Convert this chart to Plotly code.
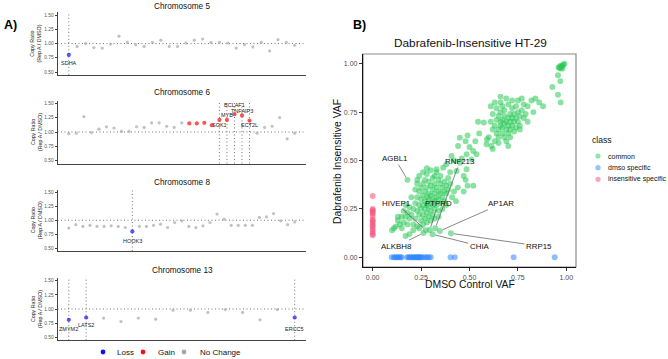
import plotly.graph_objects as go

W, H = 668, 359
FONT = "Liberation Sans, Arial, sans-serif"

# ---------------- Panel A data (copy ratio per gene, ordered along chromosome) ----------------
chr5_ratio = [0.80, 0.95, 1.00, 0.93, 0.92, 0.99, 1.13, 1.02, 0.98, 0.95, 1.02, 1.06, 0.95, 0.95,
              1.01, 1.06, 1.08, 1.02, 1.02, 1.01, 0.92, 0.98, 0.94, 1.02, 0.87, 1.07, 1.02, 0.97]
chr5_loss = [0]
chr5_gain = []
chr5_genes = ["SDHA"]
chr5_gene_idx = [0]

chr6_ratio = [0.97, 0.98, 1.27, 0.99, 1.05, 1.09, 1.07, 1.01, 1.01, 1.09, 1.08, 1.16, 1.16, 1.10,
              1.08, 1.16, 1.15, 1.15, 1.16, 1.12, 1.21, 1.21, 1.31, 1.29, 1.20, 0.98, 1.08, 1.10,
              1.25, 0.88, 0.98]
chr6_loss = []
chr6_gain = [16, 17, 18, 19, 20, 21, 22, 23, 24]
chr6_genes = ["SGK1", "MYB", "BCLAF1", "TNFAIP3", "ECT2L"]
chr6_gene_idx = [20, 21, 22, 23, 24]

chr8_ratio = [0.86, 0.92, 0.89, 0.91, 0.89, 0.89, 0.90, 0.89, 0.87, 0.80, 0.89, 0.89, 0.91, 0.93,
              0.87, 0.96, 0.99, 0.89, 0.87, 0.90, 0.96, 1.11, 1.02, 0.91, 0.91, 0.91, 0.91, 1.05,
              1.06, 1.12, 0.99, 0.92, 0.97]
chr8_loss = [9]
chr8_gain = []
chr8_genes = ["HOOK3"]
chr8_gene_idx = [9]

chr13_ratio = [0.81, 0.85, 0.84, 0.78, 0.84, 0.82, 0.98, 0.98, 0.94, 0.99, 0.94, 0.81, 0.99, 0.85]
chr13_loss = [0, 1, 13]
chr13_gain = []
chr13_genes = ["ZMYM2", "LATS2", "ERCC5"]
chr13_gene_idx = [0, 1, 13]

chrom_names = ["Chromosome 5", "Chromosome 6", "Chromosome 8", "Chromosome 13"]
ratio_ticks = [0.50, 0.75, 1.00, 1.25, 1.50]
status_names = ["Loss", "Gain", "No Change"]

# ---------------- Panel B data (VAF) ----------------
common_dmso = [
    0.20, 0.21, 0.22, 0.22, 0.23, 0.23, 0.24, 0.24, 0.24, 0.25,
    0.25, 0.25, 0.25, 0.26, 0.26, 0.26, 0.26, 0.27, 0.27, 0.27,
    0.27, 0.27, 0.28, 0.28, 0.28, 0.28, 0.29, 0.29, 0.29, 0.29,
    0.29, 0.30, 0.30, 0.30, 0.30, 0.31, 0.31, 0.31, 0.31, 0.31,
    0.32, 0.32, 0.32, 0.32, 0.33, 0.33, 0.33, 0.34, 0.34, 0.34,
    0.34, 0.35, 0.35, 0.35, 0.36, 0.36, 0.37, 0.37, 0.37, 0.38,
    0.38, 0.39, 0.40, 0.19, 0.19, 0.18, 0.18, 0.17, 0.17, 0.16,
    0.16, 0.15, 0.15, 0.14, 0.13, 0.12, 0.11, 0.10, 0.21, 0.20,
    0.22, 0.23, 0.24, 0.26, 0.28, 0.30, 0.32, 0.33, 0.21, 0.23,
    0.19, 0.17, 0.24, 0.26, 0.28, 0.30, 0.32, 0.34, 0.36, 0.38,
    0.41, 0.42, 0.44, 0.47, 0.49, 0.52, 0.48, 0.43, 0.13,
    # labelled genes
    0.18, 0.323, 0.275, 0.295, 0.347, 0.262, 0.309, 0.404,
    # middle tail
    0.28, 0.23, 0.33, 0.364, 0.433, 0.485, 0.51, 0.45, 0.407, 0.485,
    0.536, 0.519, 0.441, 0.48, 0.45, 0.588, 0.613, 0.544, 0.574, 0.40,
    0.42, 0.46, 0.50, 0.53, 0.55, 0.38, 0.35, 0.47, 0.39, 0.49,
    # upper cluster
    0.60, 0.61, 0.62, 0.62, 0.63, 0.63, 0.64, 0.64, 0.64, 0.65,
    0.65, 0.65, 0.66, 0.66, 0.66, 0.66, 0.67, 0.67, 0.67, 0.67,
    0.68, 0.68, 0.68, 0.68, 0.69, 0.69, 0.69, 0.70, 0.70, 0.70,
    0.70, 0.71, 0.71, 0.71, 0.72, 0.72, 0.72, 0.73, 0.73, 0.74,
    0.74, 0.74, 0.75, 0.75, 0.76, 0.76, 0.77, 0.78, 0.78, 0.79,
    0.80, 0.82, 0.84, 0.86, 0.88, 0.80, 0.83, 0.65, 0.62, 0.59,
    0.61, 0.63, 0.66, 0.72, 0.75, 0.77, 0.69, 0.71, 0.73, 0.76,
    0.70,
    # top cluster
    0.96, 0.97, 0.975, 0.98, 0.985, 0.99, 0.97, 0.98, 0.965, 0.957,
    0.969, 0.928, 0.957, 0.971,
]
common_insensitive = [
    0.22, 0.25, 0.20, 0.28, 0.24, 0.31, 0.22, 0.27, 0.34, 0.19,
    0.25, 0.30, 0.36, 0.22, 0.27, 0.32, 0.38, 0.20, 0.25, 0.29,
    0.34, 0.40, 0.23, 0.27, 0.31, 0.36, 0.21, 0.26, 0.30, 0.33,
    0.39, 0.24, 0.28, 0.32, 0.37, 0.22, 0.27, 0.30, 0.35, 0.41,
    0.25, 0.29, 0.33, 0.38, 0.27, 0.31, 0.36, 0.24, 0.30, 0.34,
    0.40, 0.28, 0.33, 0.38, 0.31, 0.36, 0.29, 0.34, 0.39, 0.33,
    0.37, 0.35, 0.38, 0.26, 0.20, 0.23, 0.17, 0.21, 0.27, 0.18,
    0.24, 0.15, 0.21, 0.17, 0.19, 0.16, 0.15, 0.14, 0.17, 0.31,
    0.35, 0.38, 0.42, 0.44, 0.43, 0.45, 0.42, 0.44, 0.14, 0.16,
    0.12, 0.11, 0.15, 0.17, 0.18, 0.19, 0.20, 0.21, 0.25, 0.27,
    0.31, 0.34, 0.36, 0.34, 0.37, 0.37, 0.40, 0.29, 0.21,
    # labelled genes
    0.40, 0.15, 0.14, 0.141, 0.136, 0.125, 0.119, 0.124,
    # middle tail
    0.46, 0.40, 0.455, 0.463, 0.446, 0.455, 0.506, 0.489, 0.523, 0.532,
    0.532, 0.549, 0.575, 0.60, 0.618, 0.584, 0.575, 0.70, 0.696, 0.44,
    0.50, 0.51, 0.57, 0.60, 0.64, 0.48, 0.42, 0.42, 0.41, 0.63,
    # upper cluster
    0.62, 0.70, 0.66, 0.74, 0.60, 0.68, 0.64, 0.71, 0.77, 0.66,
    0.62, 0.73, 0.68, 0.70, 0.75, 0.80, 0.64, 0.67, 0.71, 0.78,
    0.62, 0.69, 0.73, 0.76, 0.66, 0.70, 0.82, 0.64, 0.68, 0.72,
    0.79, 0.66, 0.70, 0.74, 0.68, 0.72, 0.77, 0.70, 0.74, 0.67,
    0.72, 0.78, 0.70, 0.75, 0.73, 0.68, 0.76, 0.72, 0.79, 0.74,
    0.78, 0.81, 0.82, 0.80, 0.78, 0.70, 0.75, 0.59, 0.56, 0.61,
    0.78, 0.80, 0.83, 0.81, 0.81, 0.82, 0.60, 0.62, 0.65, 0.66,
    0.575,
    # top cluster
    0.98, 0.99, 0.985, 0.99, 0.995, 1.0, 0.975, 0.975, 0.98, 0.94,
    0.91, 0.88, 0.84, 0.80,
]
labelled_genes = ["AGBL1", "RNF213", "HIVEP1", "PTPRD", "AP1AR", "ALKBH8", "CHIA", "RRP15"]
labelled_dmso = [0.18, 0.323, 0.275, 0.295, 0.347, 0.262, 0.309, 0.404]
labelled_insensitive = [0.40, 0.15, 0.14, 0.141, 0.136, 0.125, 0.119, 0.124]

dmso_specific_dmso = [0.098, 0.11, 0.115, 0.124, 0.13, 0.136, 0.144, 0.15, 0.178, 0.185,
                      0.192, 0.20, 0.206, 0.212, 0.218, 0.224, 0.23, 0.235, 0.24, 0.246,
                      0.252, 0.26, 0.273, 0.281, 0.29, 0.30, 0.402, 0.424, 0.728, 0.94]
dmso_specific_insensitive = [0.0] * len(dmso_specific_dmso)

insens_specific_insensitive = [0.317, 0.25, 0.243, 0.234, 0.226, 0.213, 0.196, 0.188, 0.179,
                               0.167, 0.158, 0.145, 0.133, 0.122, 0.114]
insens_specific_dmso = [0.0] * len(insens_specific_insensitive)

class_names = ["common", "dmso specific", "insensitive specific"]
vaf_ticks = [0.0, 0.25, 0.5, 0.75, 1.0]

# ---------------- styling / layout helpers ----------------
def px_x(p):
    return p / W

def px_y(p):
    return 1 - p / H

COL_NONE, COL_LOSS, COL_GAIN = "#a8a8a8", "#1010f5", "#f51010"
class_colors = ["rgb(40,200,85)", "rgb(45,135,255)", "rgb(245,75,120)"]

# label vertical offsets (in ratio units) for panel A gene labels
label_dy = {"SDHA": -0.15, "SGK1": -0.08, "MYB": 0.08, "BCLAF1": 0.16, "TNFAIP3": 0.07,
            "ECT2L": -0.07, "HOOK3": -0.17, "ZMYM2": -0.17, "LATS2": -0.14, "ERCC5": -0.21}
# label text positions for panel B (data units)
label_pos = {"AGBL1": (0.115, 0.51), "RNF213": (0.45, 0.495), "HIVEP1": (0.12, 0.28),
             "PTPRD": (0.338, 0.277), "AP1AR": (0.665, 0.277), "ALKBH8": (0.124, 0.058),
             "CHIA": (0.553, 0.058), "RRP15": (0.859, 0.058)}

A_left, A_right = 57.5, 306
A_panels = [(12.2, 74.9), (100.5, 163.5), (189.5, 251.0), (277.8, 340.2)]
A_title_y = [6.5, 92.3, 182.3, 270.0]


def paper_text(x, y, text, size, xanchor="center", angle=0, color="#111"):
    return dict(x=px_x(x), y=px_y(y), xref="paper", yref="paper", text=text, showarrow=False,
                xanchor=xanchor, yanchor="middle", textangle=angle,
                font=dict(size=size, color=color, family=FONT))


chroms = [
    (chr5_ratio, chr5_loss, chr5_gain, chr5_genes, chr5_gene_idx),
    (chr6_ratio, chr6_loss, chr6_gain, chr6_genes, chr6_gene_idx),
    (chr8_ratio, chr8_loss, chr8_gain, chr8_genes, chr8_gene_idx),
    (chr13_ratio, chr13_loss, chr13_gain, chr13_genes, chr13_gene_idx),
]

fig = go.Figure()
annotations = []
shapes = []
layout_axes = {}

for k, (ratio, loss, gain, genes, gidx) in enumerate(chroms):
    n = len(ratio)
    xs = list(range(n))
    colors, sizes = [], []
    for i in xs:
        if i in loss:
            colors.append(COL_LOSS); sizes.append(4.2)
        elif i in gain:
            colors.append(COL_GAIN); sizes.append(4.2)
        else:
            colors.append(COL_NONE); sizes.append(3.2)
    sfx = "" if k == 0 else str(k + 1)
    xa, ya = "x" + sfx, "y" + sfx
    shapes.append(dict(type="line", xref=xa + " domain", yref=ya, x0=0, x1=1, y0=1, y1=1,
                       line=dict(color="#666666", width=0.9, dash="1px,2.5px"), layer="below"))
    for g, gi in zip(genes, gidx):
        shapes.append(dict(type="line", xref=xa, yref=ya + " domain", x0=gi, x1=gi, y0=0, y1=1,
                           line=dict(color="#666666", width=0.9, dash="1px,2.5px"), layer="below"))
        annotations.append(dict(x=gi, y=ratio[gi] + label_dy[g], xref=xa, yref=ya, text=g,
                                showarrow=False, font=dict(size=5.5, color="#222", family=FONT),
                                xanchor="center", yanchor="middle"))
    fig.add_trace(go.Scatter(x=xs, y=ratio, mode="markers", xaxis=xa, yaxis=ya,
                             marker=dict(color=colors, size=sizes, line=dict(width=0)),
                             showlegend=False, hoverinfo="skip"))
    top, bot = A_panels[k]
    layout_axes["xaxis" + sfx] = dict(domain=[px_x(A_left), px_x(A_right)], anchor=ya,
                                      range=[-0.05 * (n - 1), 1.05 * (n - 1)],
                                      showticklabels=False, ticks="", showgrid=False,
                                      zeroline=False, showline=True, linecolor="#444",
                                      linewidth=0.9)
    layout_axes["yaxis" + sfx] = dict(domain=[px_y(bot), px_y(top)], anchor=xa,
                                      range=[0.45, 1.55], tickvals=ratio_ticks,
                                      ticktext=["%.2f" % v for v in ratio_ticks],
                                      ticks="outside", ticklen=2, tickwidth=0.6,
                                      tickcolor="#444", showgrid=False, zeroline=False,
                                      showline=True, linecolor="#444", linewidth=0.9,
                                      tickfont=dict(size=4.8, color="#555", family=FONT))
    annotations.append(paper_text(182, A_title_y[k], chrom_names[k], 8.2))
    annotations.append(paper_text(36, (top + bot) / 2, "Copy Ratio<br>(Rep A / DMSO)", 5.3,
                                  angle=-90, color="#222"))

# Panel A legend
legA_dot = [103, 143, 184]
legA_txt = [115, 156, 198]
for name, col, dx, tx in zip(status_names, [COL_LOSS, COL_GAIN, COL_NONE], legA_dot, legA_txt):
    shapes.append(dict(type="circle", xref="paper", yref="paper", xsizemode="pixel",
                       ysizemode="pixel", xanchor=px_x(dx), yanchor=px_y(352), x0=-2.4, x1=2.4,
                       y0=-2.4, y1=2.4, fillcolor=col, line=dict(width=0)))
    annotations.append(paper_text(tx, 352.5, name, 8, xanchor="left"))

annotations.append(paper_text(2, 25, "<b>A)</b>", 12.5, xanchor="left", color="#000"))
annotations.append(paper_text(350.5, 25, "<b>B)</b>", 12.5, xanchor="left", color="#000"))

# ---------------- Panel B ----------------
B_l, B_r, B_t, B_b = 363, 576, 54, 267
for cx, cy, name, col in [(common_dmso, common_insensitive, class_names[0], class_colors[0]),
                          (dmso_specific_dmso, dmso_specific_insensitive, class_names[1], class_colors[1]),
                          (insens_specific_dmso, insens_specific_insensitive, class_names[2], class_colors[2])]:
    fig.add_trace(go.Scatter(x=cx, y=cy, mode="markers", xaxis="x5", yaxis="y5",
                             marker=dict(color=col, size=5.9, opacity=0.55, line=dict(width=0)),
                             name=name, showlegend=False, hoverinfo="skip"))

for g, gx, gy in zip(labelled_genes, labelled_dmso, labelled_insensitive):
    tx, ty = label_pos[g]
    annotations.append(dict(x=gx, y=gy, xref="x5", yref="y5", ax=tx, ay=ty, axref="x5", ayref="y5",
                            text=g, showarrow=True, arrowhead=0, arrowwidth=0.7,
                            arrowcolor="#555", standoff=3, xanchor="center", yanchor="middle",
                            font=dict(size=7.9, color="#111", family=FONT)))

shapes.append(dict(type="rect", xref="x5 domain", yref="y5 domain", x0=0, x1=1, y0=0, y1=1,
                   line=dict(color="#8a8a8a", width=1.2), layer="below"))

axis_b = dict(range=[-0.05, 1.05], tickvals=vaf_ticks, ticktext=["%.2f" % v for v in vaf_ticks],
              ticks="outside", ticklen=3, tickwidth=0.8, tickcolor="#333",
              showgrid=False, zeroline=False, showline=True, linecolor="#111",
              linewidth=1.3, tickfont=dict(size=7, color="#4d4d4d", family=FONT))
layout_axes["xaxis5"] = dict(domain=[px_x(B_l), px_x(B_r)], anchor="y5", **axis_b)
layout_axes["yaxis5"] = dict(domain=[px_y(B_b), px_y(B_t)], anchor="x5", **axis_b)

annotations.append(paper_text(470, 43, "Dabrafenib-Insensitive HT-29", 11.8))
annotations.append(paper_text(470, 284.5, "DMSO Control VAF", 10.4))
annotations.append(paper_text(337, 161, "Dabrafenib Insensitive VAF", 10.4, angle=-90))

# Panel B legend
annotations.append(paper_text(590, 140, "class", 8.6, xanchor="left"))
for name, col, py in zip(class_names, class_colors, [156, 167.7, 179.3]):
    shapes.append(dict(type="circle", xref="paper", yref="paper", xsizemode="pixel",
                       ysizemode="pixel", xanchor=px_x(598), yanchor=px_y(py), x0=-2.6, x1=2.6,
                       y0=-2.6, y1=2.6, fillcolor=col, opacity=0.5, line=dict(width=0)))
    annotations.append(paper_text(606, py, name, 7, xanchor="left"))

fig.update_layout(width=W, height=H, autosize=False, margin=dict(l=0, r=0, t=0, b=0),
                  paper_bgcolor="white", plot_bgcolor="white", showlegend=False,
                  annotations=annotations, shapes=shapes, **layout_axes)

fig.write_html("out.html", config={"displayModeBar": False},
               post_script="document.body.style.margin='0';")
